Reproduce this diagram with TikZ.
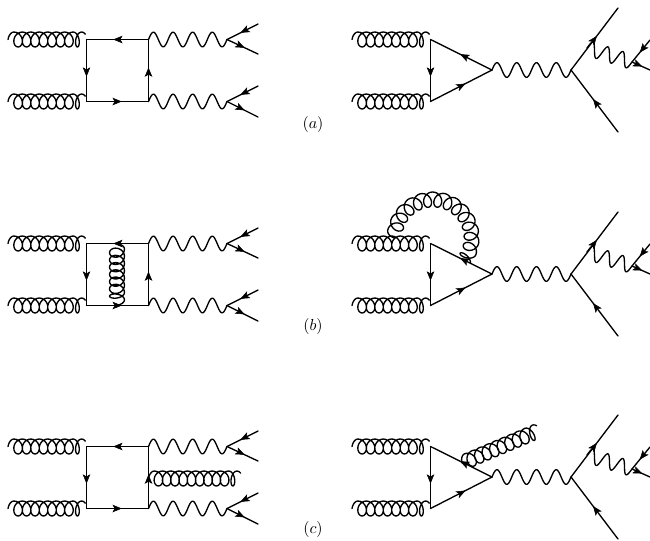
\documentclass[tikz,border=0pt]{standalone}
\usetikzlibrary{arrows.meta,decorations,decorations.markings}
\newcount\glt
\def\glpoint{%
  \ifnum\glt<0 \let\glr\glE \else\ifnum\glt>\glTend \let\glr\glE \else \let\glr\glR \fi\fi
  \pgfmathsetmacro\gx{\glr*sin(\the\glt)}%
  \pgfmathsetmacro\gy{\glA*cos(\the\glt)}%
  \ifnum\glt=-90 \pgfpathmoveto{\pgfpoint{\gx pt}{\gy pt}}%
  \else \pgfpathlineto{\pgfpoint{\gx pt}{\gy pt}}\fi}
\pgfdeclaredecoration{epicycle}{stepstate}{%
  \state{stepstate}[width={0.9999*(\pgfdecoratedpathlength-2*\glE)/(24*(\glN+0.5))}]{\glpoint\global\advance\glt by 15 }
  \state{final}{\glpoint}
}
\tikzset{
  line/.style={line width=1pt,line cap=round,line join=round},
  fermion/.style={line,postaction={decorate},decoration={markings,mark=at position #1 with {\arrow[line width=0.4pt]{Stealth[length=7pt,width=5.6pt,inset=1.6pt]}}}},
  fermion/.default=0.57,
  curly/.code args={#1/#2/#3/#4}{\def\glN{#1}\def\glR{#2}\def\glE{#3}\def\glA{#4}\pgfmathtruncatemacro\glTend{360*#1}\global\glt=-90 },
  photon/.style={line,curly=#1/0/0/5.5,decorate,decoration={epicycle,pre=moveto,pre length=0pt,post=moveto,post length=0pt}},
  photon/.default=3.5,
  gluon/.style={line,curly=#1/4.7/2.8/5.6,decorate,decoration={epicycle,pre=moveto,pre length=2.8pt,post=moveto,post length=2.8pt}},
  lbl/.style={inner sep=0pt,scale=1.2}
}
\begin{document}
\begin{tikzpicture}[x=0.75pt,y=-0.75pt]
\useasboundingbox (0,0) rectangle (650,540);
\foreach \pre/\dy in {a/0,b/204,c/407}{
  \coordinate (\pre1) at (8,39.5+\dy);
  \coordinate (\pre2) at (8,101.5+\dy);
  \coordinate (\pre3) at (86.5,39.5+\dy);
  \coordinate (\pre4) at (86.5,101.5+\dy);
  \coordinate (\pre5) at (148.5,39.5+\dy);
  \coordinate (\pre6) at (148.5,101.5+\dy);
  \coordinate (\pre7) at (227,39.5+\dy);
  \coordinate (\pre8) at (227,101.5+\dy);
  \coordinate (\pre9) at (258,24+\dy);
  \coordinate (\pre10) at (258,54+\dy);
  \coordinate (\pre11) at (258,86+\dy);
  \coordinate (\pre12) at (258,117+\dy);
  \draw[gluon=7] (\pre1) -- (\pre3);
  \draw[gluon=7] (\pre2) -- (\pre4);
  \draw[fermion] (\pre5) -- (\pre3);
  \draw[fermion=0.6] (\pre3) -- (\pre4);
  \draw[fermion] (\pre4) -- (\pre6);
  \draw[fermion=0.55] (\pre6) -- (\pre5);
  \draw[photon] (\pre5) -- (\pre7);
  \draw[photon] (\pre6) -- (\pre8);
  \draw[fermion] (\pre9) -- (\pre7);
  \draw[fermion] (\pre7) -- (\pre10);
  \draw[fermion] (\pre11) -- (\pre8);
  \draw[fermion] (\pre8) -- (\pre12);
  \coordinate (\pre21) at (352,39.5+\dy);
  \coordinate (\pre22) at (352,101.5+\dy);
  \coordinate (\pre23) at (430.5,39.5+\dy);
  \coordinate (\pre24) at (430.5,101.5+\dy);
  \coordinate (\pre25) at (492,70+\dy);
  \coordinate (\pre26) at (571,70+\dy);
  \coordinate (\pre27) at (618,8+\dy);
  \coordinate (\pre28) at (618,132+\dy);
  \coordinate (\pre29) at (587,48+\dy);
  \coordinate (\pre30) at (632,62+\dy);
  \coordinate (\pre31) at (650,40+\dy);
  \coordinate (\pre32) at (650,70+\dy);
  \draw[gluon=7] (\pre21) -- (\pre23);
  \draw[gluon=7] (\pre22) -- (\pre24);
  \draw[fermion=0.6] (\pre23) -- (\pre24);
  \draw[fermion] (\pre24) -- (\pre25);
  \draw[fermion=0.52] (\pre25) -- (\pre23);
  \draw[photon] (\pre25) -- (\pre26);
  \draw[fermion=0.55] (\pre26) -- (\pre27);
  \draw[fermion=0.53] (\pre28) -- (\pre26);
  \draw[photon=2.5] (\pre29) -- (\pre30);
  \draw[fermion] (\pre31) -- (\pre30);
  \draw[fermion] (\pre30) -- (\pre32);
}
\coordinate (g1) at (117,243.5);
\coordinate (g2) at (117,305.5);
\draw[gluon=6] (g1) -- (g2);
\coordinate (g3) at (394.5,238);
\draw[gluon=12] (g3) arc[start angle=180,end angle=-42,radius=28.9pt];
\coordinate (g5) at (148.5,478.5);
\coordinate (g6) at (242,478.5);
\draw[gluon=9] (g5) -- (g6);
\coordinate (g7) at (462,463);
\coordinate (g8) at (540,430);
\draw[gluon=8] (g7) -- (g8);
\node[lbl] (la) at (313,124) {$(a)$};
\node[lbl] (lb) at (313,326) {$(b)$};
\node[lbl] (lc) at (313,529) {$(c)$};
\end{tikzpicture}
\end{document}
